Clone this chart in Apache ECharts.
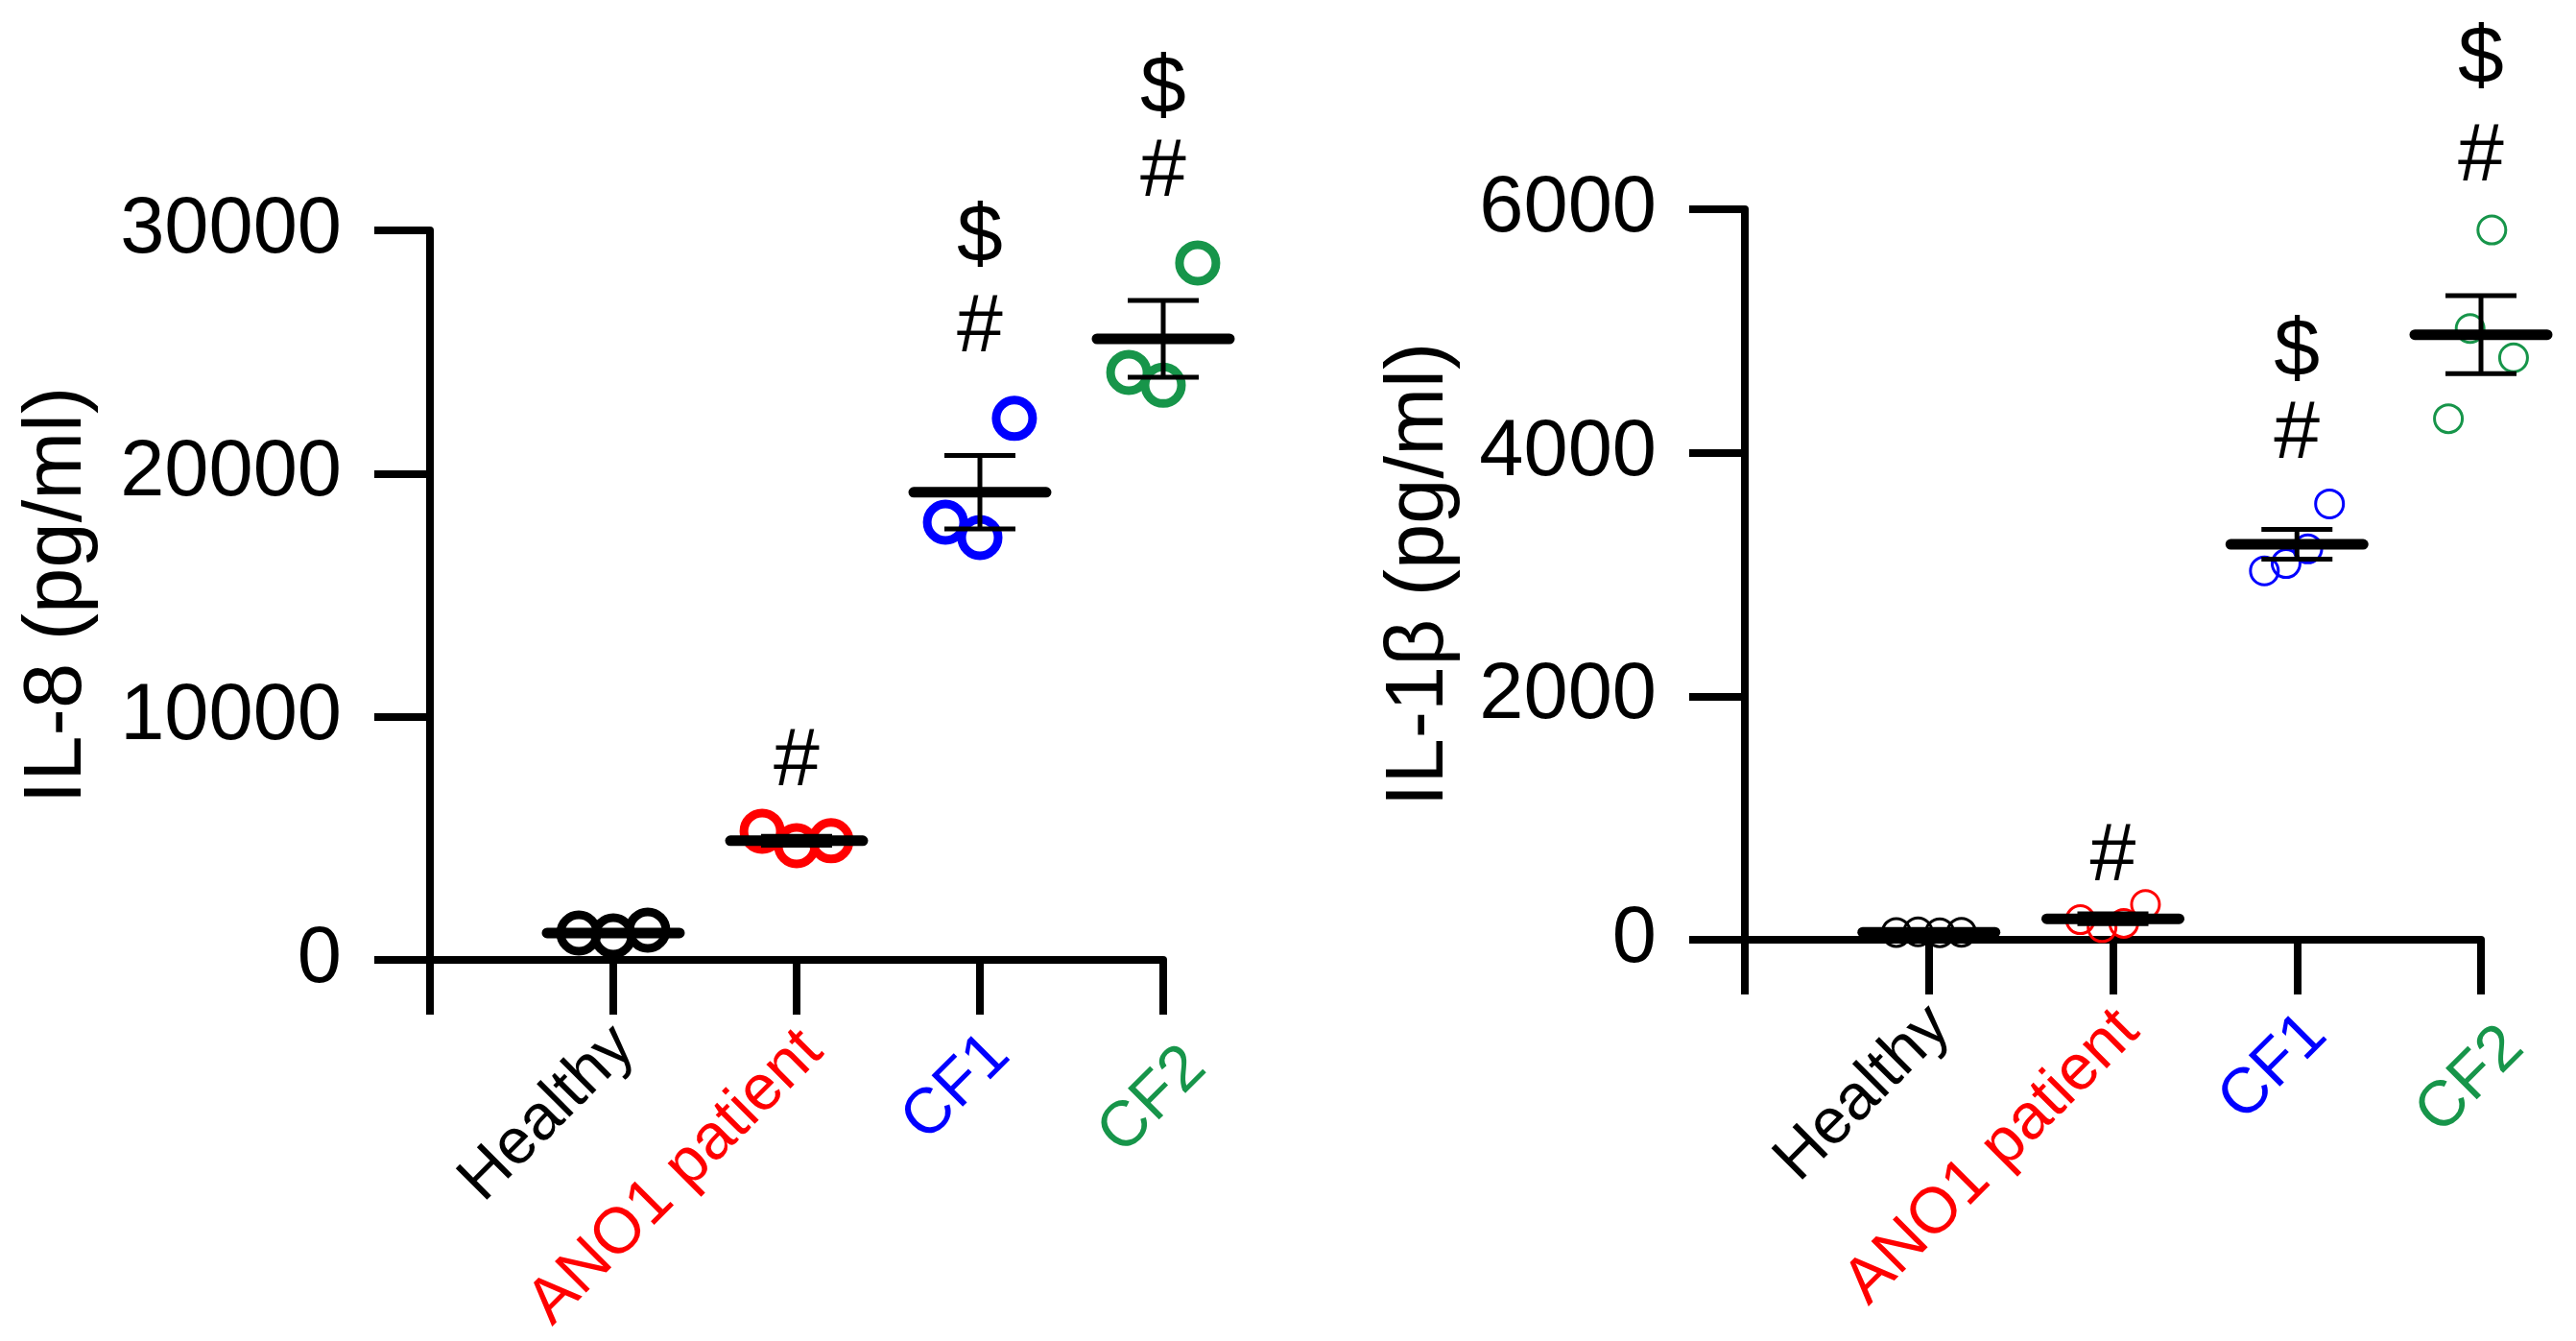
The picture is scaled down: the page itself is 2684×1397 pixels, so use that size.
<!DOCTYPE html>
<html>
<head>
<meta charset="utf-8">
<script src="https://cdn.jsdelivr.net/npm/echarts@6/dist/echarts.min.js"></script>
<style>
html,body{margin:0;padding:0;background:#ffffff;}
#chart{width:2684px;height:1397px;}
</style>
</head>
<body>
<div id="chart"></div>
<script>
// ---------- data ----------
const categories = ['Healthy', 'ANO1 patient', 'CF1', 'CF2'];
const categoryColors = ['#000000', '#ff0000', '#0000ff', '#17954a'];

// IL-8 (pg/ml), individual points (left-to-right within each group)
const il8Healthy = [1105, 990, 1225];
const il8Ano1 = [5290, 4700, 4900];
const il8Cf1 = [18000, 17370, 22270];
const il8Cf2 = [24160, 23630, 28660];
const il8Means = [1110, 4900, 19230, 25540];
const il8Sems = [60, 180, 1510, 1580];
const il8Ticks = [0, 10000, 20000, 30000];
const il8MarkCats = [2, 3, 3, 4, 4];
const il8MarkTexts = ['#', '#', '$', '#', '$'];
const il8MarkY = [8130, 25980, 29690, 32370, 35810];

// IL-1beta (pg/ml)
const il1bHealthy = [60, 65, 58, 62];
const il1bAno1 = [165, 100, 135, 290];
const il1bCf1 = [3030, 3090, 3210, 3580];
const il1bCf2 = [4280, 5020, 5830, 4780];
const il1bMeans = [62, 172, 3248, 4970];
const il1bSems = [3, 40, 122, 320];
const il1bTicks = [0, 2000, 4000, 6000];
const il1bMarkCats = [2, 3, 3, 4, 4];
const il1bMarkTexts = ['#', '#', '$', '#', '$'];
const il1bMarkY = [675, 4144, 4822, 6422, 7226];

// ---------- styling ----------
const FONT = 'Arial, "Liberation Sans", sans-serif';
const labelTopPad = [0, 13, 24, 62];

const GRIDS = [
  { left: 448, top: 240, width: 764, height: 760 },
  { left: 1818, top: 218, width: 767, height: 761 }
];
const LABEL_SHIFT = 12;

function xAxisFor(gridIndex) {
  return {
    type: 'value', gridIndex: gridIndex, min: 0, max: categories.length, interval: 1,
    splitLine: { show: false },
    axisLine: { show: true, onZero: false, lineStyle: { color: '#000', width: 8 } },
    axisTick: { show: true, length: 57, lineStyle: { color: '#000', width: 8 } },
    axisLabel: { show: false }
  };
}

function labelAxisFor(gridIndex) {
  const rich = {};
  categories.forEach((c, i) => {
    rich['c' + (i + 1)] = {
      color: categoryColors[i], fontSize: 67, fontFamily: FONT,
      padding: [labelTopPad[i], 0, 0, 0]
    };
  });
  return {
    type: 'value', gridIndex: gridIndex, min: 0, max: categories.length, interval: 1,
    splitLine: { show: false },
    axisLine: { show: false },
    axisTick: { show: false },
    axisLabel: {
      show: true, rotate: 45, margin: 80, fontSize: 67, fontFamily: FONT,
      formatter: function (v) {
        const i = Math.round(v);
        if (i < 1 || i > categories.length) return '';
        return '{c' + i + '|' + categories[i - 1] + '}';
      },
      rich: rich
    }
  };
}

function yAxisFor(gridIndex, ticks, name, gap) {
  return {
    type: 'value', gridIndex: gridIndex,
    min: ticks[0], max: ticks[ticks.length - 1], interval: ticks[1] - ticks[0],
    name: name, nameLocation: 'middle', nameGap: gap,
    nameTextStyle: { fontSize: 85, color: '#000', fontFamily: FONT },
    splitLine: { show: false },
    axisLine: { show: true, lineStyle: { color: '#000', width: 8 } },
    axisTick: { show: true, length: 58, lineStyle: { color: '#000', width: 8 } },
    axisLabel: {
      show: true, margin: 92, fontSize: 83, color: '#000', fontFamily: FONT,
      formatter: function (v) { return String(v); }
    }
  };
}

function hiddenYAxis(gridIndex, ticks) {
  return { type: 'value', gridIndex: gridIndex, min: ticks[0], max: ticks[ticks.length - 1], show: false };
}

function pointSeries(gridIndex, groups, step, size, border) {
  return groups.map((vals, g) => ({
    type: 'scatter', xAxisIndex: gridIndex, yAxisIndex: gridIndex,
    symbol: 'circle', symbolSize: size, z: 2, silent: true, clip: false,
    itemStyle: { color: 'rgba(0,0,0,0)', borderColor: categoryColors[g], borderWidth: border, opacity: 1 },
    data: vals.map((v, j) => [g + 1 + (j - (vals.length - 1) / 2) * step, v])
  }));
}

function meanSeries(gridIndex, means, sems) {
  return {
    type: 'custom', xAxisIndex: gridIndex, yAxisIndex: gridIndex, z: 5, silent: true, clip: false,
    data: means.map((m, i) => [i + 1, m, sems[i]]),
    renderItem: function (params, api) {
      const x = api.value(0), m = api.value(1), s = api.value(2);
      const c = api.coord([x, m]);
      const top = api.coord([x, m + s]);
      const bot = api.coord([x, m - s]);
      const halfMean = 69, halfCap = 37;
      const err = { stroke: '#000', lineWidth: 5 };
      return {
        type: 'group',
        children: [
          { type: 'line', shape: { x1: c[0], y1: top[1], x2: c[0], y2: bot[1] }, style: err },
          { type: 'line', shape: { x1: c[0] - halfCap, y1: top[1], x2: c[0] + halfCap, y2: top[1] }, style: err },
          { type: 'line', shape: { x1: c[0] - halfCap, y1: bot[1], x2: c[0] + halfCap, y2: bot[1] }, style: err },
          { type: 'line', shape: { x1: c[0] - halfMean, y1: c[1], x2: c[0] + halfMean, y2: c[1] },
            style: { stroke: '#000', lineWidth: 11, lineCap: 'round' } }
        ]
      };
    }
  };
}

function markSeries(gridIndex, cats, texts, ys) {
  return {
    type: 'custom', xAxisIndex: gridIndex, yAxisIndex: gridIndex, z: 6, silent: true, clip: false,
    data: cats.map((c, i) => [c, ys[i], i]),
    renderItem: function (params, api) {
      const p = api.coord([api.value(0), api.value(1)]);
      return {
        type: 'text',
        x: p[0], y: p[1],
        style: {
          text: texts[api.value(2)], fill: '#000', fontSize: 86, fontFamily: FONT,
          align: 'center', verticalAlign: 'middle'
        }
      };
    }
  };
}

const chart = echarts.init(document.getElementById('chart'), null, { renderer: 'canvas' });
chart.setOption({
  backgroundColor: '#ffffff',
  animation: false,
  grid: [
    GRIDS[0],
    GRIDS[1],
    Object.assign({}, GRIDS[0], { left: GRIDS[0].left + LABEL_SHIFT }),
    Object.assign({}, GRIDS[1], { left: GRIDS[1].left + LABEL_SHIFT })
  ],
  xAxis: [xAxisFor(0), xAxisFor(1), labelAxisFor(2), labelAxisFor(3)],
  yAxis: [
    yAxisFor(0, il8Ticks, 'IL-8 (pg/ml)', 345),
    yAxisFor(1, il1bTicks, 'IL-1\u03B2 (pg/ml)', 296),
    hiddenYAxis(2, il8Ticks),
    hiddenYAxis(3, il1bTicks)
  ],
  series: [].concat(
    pointSeries(0, [il8Healthy, il8Ano1, il8Cf1, il8Cf2], 0.188, 38, 9),
    [meanSeries(0, il8Means, il8Sems), markSeries(0, il8MarkCats, il8MarkTexts, il8MarkY)],
    pointSeries(1, [il1bHealthy, il1bAno1, il1bCf1, il1bCf2], 0.118, 29, 3),
    [meanSeries(1, il1bMeans, il1bSems), markSeries(1, il1bMarkCats, il1bMarkTexts, il1bMarkY)]
  )
});
</script>
</body>
</html>
